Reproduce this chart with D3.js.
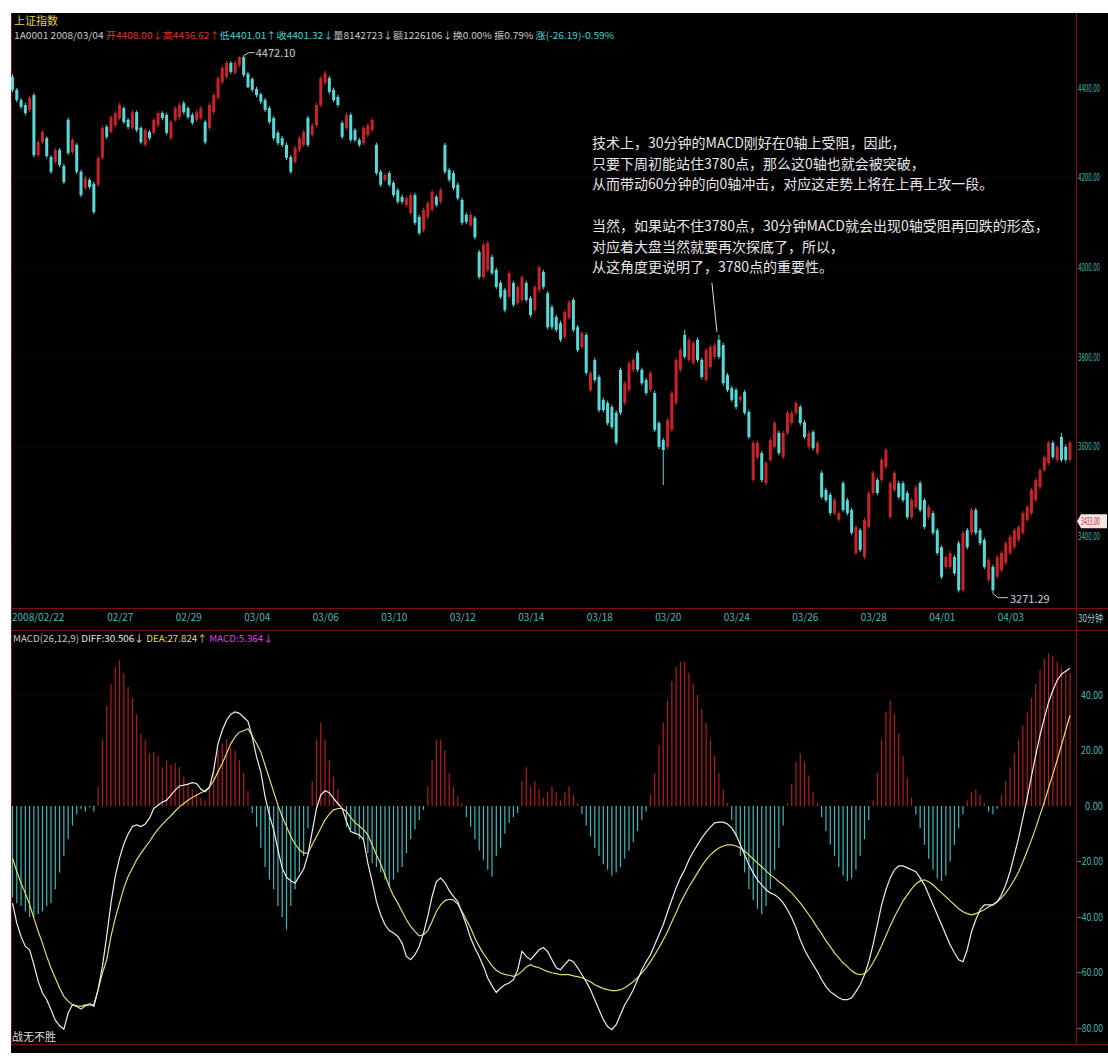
<!DOCTYPE html>
<html>
<head>
<meta charset="utf-8">
<script src="https://cdn.jsdelivr.net/npm/d3@7/dist/d3.min.js"></script>
<style>
html, body { margin: 0; padding: 0; background: #fff; }
svg { display: block; }
text { font-family: "Noto Sans CJK SC", "DejaVu Sans", sans-serif; }
</style>
</head>
<body>
<div id="chart"></div>
<script>
// 30-minute bars, 2008/02/22 .. 2008/04/08
var opens = [
4425,4396,4373,4362,4351,4384,4250,4279,4288,4246,
4235,4262,4226,4329,4257,4273,4213,4177,4195,4186,
4184,4244,4313,4302,4317,4333,4355,4329,4311,4346,
4311,4273,4302,4300,4317,4344,4340,4288,4329,4335,
4366,4355,4340,4329,4333,4324,4311,4346,4378,4413,
4425,4456,4434,4451,4469,4432,4420,4398,4386,4373,
4355,4333,4300,4288,4273,4246,4235,4262,4273,4333,
4295,4317,4362,4411,4422,4396,4380,4322,4311,4340,
4306,4284,4277,4295,4306,4273,4213,4195,4210,4188,
4172,4157,4139,4121,4161,4112,4083,4112,4128,4157,
4146,4273,4217,4210,4184,4150,4117,4094,4110,4034,
3978,3994,4023,3994,3965,3949,3934,3965,3920,3927,
3965,3931,3904,3949,3989,3942,3911,3889,3875,3844,
3887,3927,3866,3822,3849,3726,3793,3755,3704,3697,
3688,3675,3771,3697,3726,3771,3809,3771,3748,3726,
3719,3652,3614,3599,3637,3697,3771,3849,3793,3786,
3838,3793,3748,3777,3800,3838,3826,3759,3730,3726,
3704,3721,3677,3525,3576,3585,3518,3570,3599,3630,
3576,3630,3652,3675,3688,3654,3599,3632,3585,3541,
3503,3492,3451,3436,3518,3480,3458,3362,3413,3353,
3420,3496,3525,3525,3554,3442,3503,3518,3518,3496,
3442,3465,3518,3480,3442,3451,3413,3375,3331,3331,
3353,3384,3279,3413,3407,3458,3413,3391,3302,3331,
3309,3324,3340,3362,3375,3391,3407,3436,3451,3480,
3509,3547,3563,3608,3570,3621,3599,3570];

var closes = [
4396,4373,4358,4344,4378,4250,4279,4302,4248,4213,
4262,4228,4190,4255,4284,4213,4161,4199,4179,4123,
4244,4311,4291,4335,4344,4362,4324,4313,4346,4306,
4279,4306,4288,4329,4344,4333,4300,4324,4355,4362,
4346,4335,4322,4346,4355,4279,4362,4384,4422,4445,
4456,4436,4456,4469,4429,4401.32,4396,4384,4369,4351,
4324,4288,4277,4273,4244,4213,4266,4288,4302,4273,
4317,4362,4422,4434,4391,4373,4362,4291,4340,4284,
4284,4273,4311,4317,4329,4210,4184,4206,4184,4161,
4146,4146,4154,4161,4099,4076,4128,4143,4168,4139,
4172,4213,4195,4177,4154,4099,4101,4117,4067,3978,
4050,4054,3987,3956,3934,3904,3987,3916,3956,3978,
3927,3893,3956,4000,3956,3866,3866,3860,3838,3900,
3922,3860,3815,3853,3764,3764,3748,3681,3681,3652,
3643,3608,3675,3741,3786,3793,3771,3741,3719,3764,
3637,3599,3592,3659,3719,3793,3815,3800,3838,3831,
3793,3755,3815,3822,3826,3800,3741,3726,3704,3688,
3710,3675,3621,3608,3608,3525,3563,3614,3652,3585,
3630,3675,3675,3697,3652,3621,3630,3596,3608,3487,
3480,3451,3480,3451,3458,3451,3407,3420,3369,3436,
3496,3541,3496,3570,3592,3518,3541,3487,3480,3442,
3480,3509,3458,3420,3465,3407,3362,3309,3353,3362,
3317,3279,3407,3375,3458,3407,3384,3331,3346,3279,
3353,3362,3384,3398,3413,3420,3451,3465,3503,3525,
3547,3576,3608,3576,3599,3570,3570,3608];

var highs = [
4431,4400,4377,4367,4383,4389,4284,4307,4292,4250,
4267,4266,4231,4334,4289,4277,4218,4204,4199,4191,
4249,4316,4318,4339,4349,4367,4359,4333,4351,4350,
4315,4311,4306,4334,4349,4348,4345,4329,4360,4367,
4371,4359,4345,4351,4360,4329,4367,4389,4427,4450,
4461,4460,4461,4471,4472.10,4436.62,4424,4403,4390,4378,
4360,4338,4305,4293,4278,4251,4271,4293,4307,4338,
4322,4367,4427,4439,4427,4401,4385,4327,4345,4345,
4311,4289,4316,4322,4334,4278,4218,4211,4215,4193,
4177,4162,4159,4166,4166,4117,4133,4148,4173,4162,
4177,4278,4222,4215,4189,4155,4122,4122,4115,4039,
4055,4059,4028,3999,3970,3954,3992,3970,3961,3983,
3970,3936,3961,4005,3994,3947,3916,3894,3880,3905,
3927,3932,3871,3858,3854,3769,3798,3760,3709,3702,
3693,3680,3776,3746,3791,3798,3814,3776,3753,3769,
3724,3657,3619,3664,3724,3798,3820,3860,3843,3836,
3843,3798,3820,3827,3831,3849,3831,3764,3735,3731,
3715,3726,3682,3613,3613,3590,3568,3619,3657,3635,
3635,3680,3680,3702,3693,3659,3635,3637,3613,3546,
3508,3497,3485,3456,3523,3485,3463,3425,3418,3441,
3501,3546,3530,3575,3597,3523,3546,3523,3523,3501,
3485,3514,3523,3485,3470,3456,3418,3380,3358,3367,
3358,3389,3412,3418,3463,3463,3418,3396,3351,3336,
3358,3367,3389,3403,3418,3425,3456,3470,3508,3530,
3552,3581,3613,3613,3604,3630,3604,3613];

var lows = [
4391,4368,4353,4339,4346,4245,4245,4274,4243,4208,
4230,4223,4185,4250,4252,4208,4156,4172,4174,4118,
4179,4239,4286,4297,4312,4328,4319,4308,4306,4301,
4274,4268,4283,4295,4312,4328,4295,4283,4324,4330,
4341,4330,4317,4324,4328,4274,4306,4341,4373,4408,
4420,4431,4429,4446,4424,4401.01,4391,4379,4364,4346,
4319,4283,4272,4268,4239,4208,4230,4257,4268,4268,
4290,4312,4357,4406,4386,4368,4357,4286,4306,4279,
4279,4268,4272,4290,4301,4205,4179,4190,4179,4156,
4141,4141,4134,4116,4094,4071,4078,4107,4123,4134,
4141,4208,4190,4172,4149,4094,4096,4089,4062,3973,
3973,3989,3982,3951,3929,3899,3929,3911,3915,3922,
3922,3888,3899,3944,3951,3861,3861,3855,3833,3839,
3882,3855,3810,3817,3759,3721,3743,3676,3676,3647,
3638,3603,3670,3692,3721,3766,3766,3736,3714,3721,
3632,3594,3514,3594,3632,3692,3766,3795,3788,3781,
3788,3750,3743,3772,3795,3795,3736,3721,3699,3683,
3699,3670,3616,3520,3571,3520,3513,3565,3594,3580,
3571,3625,3647,3670,3647,3616,3594,3591,3580,3482,
3475,3446,3446,3431,3453,3446,3402,3357,3364,3348,
3415,3491,3491,3520,3549,3437,3498,3482,3475,3437,
3437,3460,3453,3415,3437,3402,3357,3304,3326,3326,
3312,3274,3274,3370,3402,3402,3379,3326,3297,3271.29,
3304,3319,3335,3357,3370,3386,3402,3431,3446,3475,
3504,3542,3558,3571,3565,3565,3565,3565];

// MACD(26,12,9)
var diffs = [
-35,-42.2,-47,-50.6,-51.8,-57.2,-63.2,-67.4,-69.8,-73.4,
-77.2,-79.2,-80.4,-74.6,-71.6,-72.2,-73.2,-72,-71.2,-72.2,
-66.2,-57.8,-47,-35,-25.4,-18.8,-13.7,-10.1,-7.4,-6.8,
-7.4,-6.5,-4.4,-0.9,0.3,1.4,2.1,3.9,5.7,7.2,
7.5,7.9,8.4,8.1,6.1,5.1,6.7,12.9,22.5,27.3,
30.9,33.1,33.9,33.4,32,30.506,24.9,17.7,12.3,3.3,
-3.2,-8.6,-15.8,-22.4,-25.7,-26.9,-27.8,-25.2,-22.8,-17.6,
-9.2,-0.9,3.9,5.5,4.8,2.7,0.9,-0.9,-5.6,-9.2,
-9.8,-10.4,-12.2,-20.6,-27.2,-34.4,-39.2,-42.8,-44.9,-45.8,
-47,-49.4,-54.2,-55.4,-53.6,-50.6,-45.8,-39.8,-32.6,-27.2,
-26,-27.6,-30.5,-32.6,-34.4,-38.6,-42.8,-47.6,-51.2,-54.2,
-57.8,-62,-64.8,-67.2,-65.6,-64.4,-63.8,-62.6,-59,-52.4,
-54.2,-55.4,-53.6,-51.8,-51,-52.5,-55.4,-58.3,-59,-57.2,
-55.4,-56.1,-58.3,-60.8,-63.3,-66.2,-69.8,-73.4,-77,-79.5,
-80.6,-78.8,-75.2,-71.6,-69.1,-66.2,-62.6,-59,-56.1,-53.6,
-50,-46.4,-42.8,-38.1,-33.8,-29.5,-25.9,-23,-19.4,-16.5,
-14,-11.5,-9.4,-7.6,-6.1,-5.8,-5.8,-6.5,-7.9,-10.4,
-14,-17.6,-21.2,-24.1,-26.6,-28.4,-30.2,-31.3,-32,-33.1,
-34.9,-37.4,-40.3,-43.9,-48.2,-51.8,-54.7,-57.2,-59.7,-62.6,
-65.1,-66.9,-68,-69.1,-69.8,-69.8,-69.1,-66.9,-64.4,-60.8,
-56.1,-50,-42.8,-35.6,-30.2,-25.9,-23,-21.6,-21.6,-22.3,
-23,-23.7,-25.9,-28.4,-32,-35.6,-39.2,-42.8,-46.4,-50,
-52.9,-55.4,-56.1,-51.8,-45.3,-41,-37.4,-35.6,-35.6,-35.6,
-34.5,-32,-28.4,-23.7,-17.6,-11.5,-4.3,2.9,10.8,18.3,
25.5,31.7,37.4,41.7,45.3,47.5,48.6,49.6];

var deas = [
-18.8,-23.6,-27.8,-31.4,-35.6,-40.4,-45.2,-49.4,-54.2,-58.4,
-62,-65.6,-68.6,-70.4,-71.6,-72,-72.2,-71.7,-71.8,-71.6,
-66.2,-60.2,-55.4,-47,-40.4,-35,-29.6,-25.4,-22.4,-19.4,
-17,-14.9,-12.8,-10.4,-8.3,-6.6,-5,-3.5,-1.8,-0.3,
0.9,2.1,3.1,3.9,4.8,5.5,6.9,9.1,12.3,15.3,
18.9,22.5,24.9,26.6,27.1,27.824,25.2,22.5,19.5,14.7,
9.9,5.1,0.3,-3.9,-7.4,-11,-13.7,-15.8,-17,-17,
-14,-11,-8,-5,-2.9,-1.4,-0.9,-0.9,-2,-4.1,
-6,-7.2,-8.6,-10.4,-14,-17.6,-20.9,-24.8,-29,-32.4,
-35,-38,-41,-43.4,-45.2,-46.8,-46.4,-44.9,-41.6,-38,
-35.6,-34.1,-33.6,-33.8,-35.3,-38,-41,-44,-47.6,-50.6,
-53.2,-55.4,-57.6,-59.2,-60.2,-60.7,-61,-61.4,-60.8,-59.6,
-58,-57.2,-57.9,-58.3,-59,-59.7,-60.1,-60.4,-60.8,-60.8,
-60.8,-61.2,-61.5,-61.9,-62.6,-63.3,-64.4,-65.1,-65.8,-66.2,
-66.5,-66.5,-66.2,-65.5,-64.4,-63.3,-61.9,-60.1,-58.3,-56.1,
-53.6,-51.1,-48.2,-45.3,-41.7,-38.5,-34.9,-32,-29.1,-26.6,
-24.1,-21.6,-19.4,-17.6,-16.2,-15.1,-14.4,-14,-14,-14.4,
-15.1,-16.2,-17.6,-19.1,-20.5,-21.9,-23.4,-24.8,-25.9,-27.3,
-28.4,-29.9,-31.3,-33.1,-34.9,-37,-39.2,-41.4,-43.9,-46,
-48.6,-50.7,-52.9,-54.7,-56.5,-57.9,-59.4,-60.4,-60.8,-60.4,
-59,-56.5,-53.6,-50.4,-46.8,-43.2,-39.9,-37,-34.2,-32,
-29.9,-28.1,-27,-26.6,-27.3,-28.4,-29.9,-31.3,-32.7,-34.2,
-35.6,-37,-38.1,-38.8,-39.2,-38.8,-38.1,-37.4,-36.3,-35.6,
-34.5,-33.1,-31.3,-29.1,-26.6,-23.7,-20.1,-16.2,-12.2,-7.9,
-3.2,1.4,6.5,11.5,16.5,21.9,27.3,32.7];

var macdBars = [
-33,-35,-36,-38,-40,-40,-39,-38,-36,-35,
-30,-24,-18,-12,-7,-3,-1,-2,-0.5,-2,
7,24,36,44,50,52.5,48,43,39,33,
26,24,19,19.5,18,14,16.5,15,15.5,14,
10.5,8,6,4.5,3,2,7,14,20,22.5,
24,21,20,16.5,12,5.364,-2.5,-7.5,-15,-22,
-26.5,-30,-36,-40,-44.5,-36,-30,-24,-18,-8,
9,24,30,24,16.5,10.5,6,1,-7.5,-8.5,
-10,-12,-12,-17,-20.5,-22,-24,-26.5,-29,-26.5,
-24,-22,-17,-12,-8.5,-5,-1.5,7,16.5,24,
24,20,12,7,3.5,1,-4,-7.5,-12,-16,
-19.5,-23,-25.5,-18,-15,-10,-6,-4,-2.5,9,
14,7,9,6,3,5,7,5,2,5,
7,4,1,-3,-7,-11,-15,-18,-21,-23,
-25,-24,-22,-19,-16,-13,-9,-5,-2,4,
12,22,30,38,45,50,52,52,48,44,
40,35,30,24,18,12,6,1,-5,-11,
-18,-24,-30,-34,-37,-39,-36,-30,-23,-15,
-7,1,8,16,19,16,11,5,1,-4,
-9,-14,-18,-22,-25,-27,-26,-23,-18,-12,
-5,2,12,24,34,38,33,26,18,10,
3,-3,-8,-14,-19,-23,-26,-27,-25,-20,
-14,-8,-3,2,5,6,4,1,-2,-3,
-1,4,9,14,19,24,29,34,39,44,
49,53,55,54,52,50,49,48];

var dateIdx = [0, 22, 38, 54, 70, 86, 102, 118, 134, 150, 166, 182, 198, 214, 230];
var dateLabels = ["2008/02/22","02/27","02/29","03/04","03/06","03/10","03/12","03/14",
                  "03/18","03/20","03/24","03/26","03/28","04/01","04/03"];
var priceTicks = [3400, 3600, 3800, 4000, 4200, 4400];
var macdTicks = [40, 20, 0, -20, -40, -60, -80];
var lastMark = 3433;

var noteLines = [
  "技术上，30分钟的MACD刚好在0轴上受阻，因此，",
  "只要下周初能站住3780点，那么这0轴也就会被突破，",
  "从而带动60分钟的向0轴冲击，对应这走势上将在上再上攻一段。",
  "",
  "当然，如果站不住3780点，30分钟MACD就会出现0轴受阻再回跌的形态，",
  "对应着大盘当然就要再次探底了，所以，",
  "从这角度更说明了，3780点的重要性。"
];
var noteBar = 165;

var W = 1108, H = 1061;
var UP = "#c8222a", DOWN = "#58d8d8", AXIS = "#48b8b0", FRAME = "#7a1010";
var RIGHT = 1103;   // right end of the MACD labels
var PRIGHT = 1100;  // right end of the price labels

var svg = d3.select("#chart").append("svg")
    .attr("width", W)
    .attr("height", H);

svg.append("rect")
    .attr("x", 11).attr("y", 13)
    .attr("width", W - 11).attr("height", 1040)
    .attr("fill", "#000");

var N = closes.length;
var x = d3.scaleLinear().domain([0, N - 1]).range([12.5, 1070]);
var yP = d3.scaleLinear().domain([3400, 4400]).range([536, 88]);
var yM = d3.scaleLinear().domain([-80, 40]).range([1028, 695]);

// grid lines
svg.append("g").selectAll("line")
    .data(priceTicks)
    .enter().append("line")
    .attr("x1", 12).attr("x2", 1076)
    .attr("y1", function(d) { return yP(d); })
    .attr("y2", function(d) { return yP(d); })
    .attr("stroke", "#3a0c0c")
    .attr("stroke-dasharray", "1,3");

svg.append("g").selectAll("line")
    .data([40, -40])
    .enter().append("line")
    .attr("x1", 12).attr("x2", 1076)
    .attr("y1", function(d) { return yM(d); })
    .attr("y2", function(d) { return yM(d); })
    .attr("stroke", "#3a0c0c")
    .attr("stroke-dasharray", "1,3");

// frame lines
var frame = svg.append("g").attr("stroke", FRAME).attr("stroke-width", 1);
frame.append("line").attr("x1", 11.5).attr("x2", 11.5).attr("y1", 13).attr("y2", 1044);
frame.append("line").attr("x1", 1076.5).attr("x2", 1076.5).attr("y1", 13).attr("y2", 1044);
frame.append("line").attr("x1", 11).attr("x2", W).attr("y1", 608.5).attr("y2", 608.5);
frame.append("line").attr("x1", 11).attr("x2", W).attr("y1", 630.5).attr("y2", 630.5);
frame.append("line").attr("x1", 11).attr("x2", W).attr("y1", 1044.5).attr("y2", 1044.5);

// candles
var bars = d3.range(N);
var candle = svg.append("g").selectAll("g")
    .data(bars)
    .enter().append("g");

candle.append("line")
    .attr("x1", function(i) { return x(i); })
    .attr("x2", function(i) { return x(i); })
    .attr("y1", function(i) { return yP(highs[i]); })
    .attr("y2", function(i) { return yP(lows[i]); })
    .attr("stroke", function(i) { return closes[i] >= opens[i] ? UP : DOWN; })
    .attr("stroke-width", 1);

candle.append("rect")
    .attr("x", function(i) { return x(i) - 1.5; })
    .attr("width", 3)
    .attr("y", function(i) { return yP(Math.max(opens[i], closes[i])); })
    .attr("height", function(i) {
        return Math.max(1, Math.abs(yP(opens[i]) - yP(closes[i])));
    })
    .attr("fill", function(i) { return closes[i] >= opens[i] ? UP : DOWN; });

// high / low labels
var hi = d3.maxIndex(highs), lo = d3.minIndex(lows);
svg.append("path")
    .attr("d", "M" + x(hi) + "," + yP(highs[hi]) + "l5,-3h6")
    .attr("stroke", "#ccc").attr("fill", "none");
svg.append("text")
    .attr("x", x(hi) + 12).attr("y", yP(highs[hi]) - 3)
    .attr("dy", "0.35em")
    .attr("font-size", 11).attr("fill", "#ccc")
    .text(d3.format(".2f")(highs[hi]));

svg.append("path")
    .attr("d", "M" + x(lo) + "," + yP(lows[lo]) + "l5,4h10")
    .attr("stroke", "#ccc").attr("fill", "none");
svg.append("text")
    .attr("x", x(lo) + 17).attr("y", yP(lows[lo]) + 5)
    .attr("dy", "0.35em")
    .attr("font-size", 11).attr("fill", "#ccc")
    .text(d3.format(".2f")(lows[lo]));

// annotation text
var note = svg.append("text")
    .attr("x", 592).attr("y", 148)
    .attr("font-size", 14).attr("fill", "#e6e6e6");
note.selectAll("tspan")
    .data(noteLines)
    .enter().append("tspan")
    .attr("x", 592)
    .attr("dy", function(d, i) { return i === 0 ? 0 : 20.7; })
    .text(function(d) { return d === "" ? " " : d; });

svg.append("line")
    .attr("x1", x(noteBar) - 7).attr("y1", 283)
    .attr("x2", x(noteBar) - 2).attr("y2", yP(highs[noteBar]) - 3)
    .attr("stroke", "#ddd");

// price axis (labels squeezed into the narrow right margin)
var pAxis = svg.append("g")
    .attr("transform", "translate(" + PRIGHT + ",0)")
    .call(d3.axisLeft(yP).tickValues(priceTicks).tickSize(0).tickPadding(0)
        .tickFormat(d3.format(".2f")));
pAxis.select(".domain").remove();
pAxis.selectAll("text").attr("fill", AXIS).attr("font-size", 10)
    .attr("font-family", "DejaVu Sans Condensed")
    .attr("textLength", 22).attr("lengthAdjust", "spacingAndGlyphs");

// last price marker
var mark = svg.append("g").attr("transform", "translate(0," + yP(lastMark) + ")");
mark.append("path")
    .attr("d", "M1077,0l4,-7h26v14h-26z")
    .attr("fill", "#f3e6e6");
mark.append("text")
    .attr("x", PRIGHT).attr("dy", "0.35em")
    .attr("text-anchor", "end")
    .attr("font-size", 10).attr("fill", "#d02020")
    .attr("font-family", "DejaVu Sans Condensed")
    .attr("textLength", 19).attr("lengthAdjust", "spacingAndGlyphs")
    .text(d3.format(".2f")(lastMark));

// date axis
var xAxis = svg.append("g")
    .attr("transform", "translate(0,611)")
    .call(d3.axisBottom(x).tickValues(dateIdx).tickSize(0).tickPadding(3)
        .tickFormat(function(d, i) { return dateLabels[i]; }));
xAxis.select(".domain").remove();
xAxis.selectAll("text")
    .attr("text-anchor", "start")
    .attr("fill", AXIS).attr("font-size", 10)
    .attr("font-family", "DejaVu Sans Condensed");
xAxis.select(".tick text").attr("dx", -1);

svg.append("text")
    .attr("x", RIGHT).attr("y", 622)
    .attr("text-anchor", "end")
    .attr("font-size", 10).attr("fill", "#9ad0d0")
    .attr("textLength", 25).attr("lengthAdjust", "spacingAndGlyphs")
    .text("30分钟");

// MACD histogram
svg.append("g").selectAll("line")
    .data(bars)
    .enter().append("line")
    .attr("x1", function(i) { return x(i); })
    .attr("x2", function(i) { return x(i); })
    .attr("y1", yM(0))
    .attr("y2", function(i) { return yM(macdBars[i]); })
    .attr("stroke", function(i) { return macdBars[i] >= 0 ? "#b01e1e" : "#3fb8b8"; })
    .attr("stroke-width", 1.2);

var line = function(arr) {
    return d3.line()
        .x(function(i) { return x(i); })
        .y(function(i) { return yM(arr[i]); })(bars);
};
svg.append("path")
    .attr("d", line(deas))
    .attr("fill", "none").attr("stroke", "#e2da72").attr("stroke-width", 1.2);
svg.append("path")
    .attr("d", line(diffs))
    .attr("fill", "none").attr("stroke", "#ececec").attr("stroke-width", 1.2);

// MACD axis
var mAxis = svg.append("g")
    .attr("transform", "translate(" + RIGHT + ",0)")
    .call(d3.axisLeft(yM).tickValues(macdTicks).tickSize(0).tickPadding(0)
        .tickFormat(d3.format(".2f")));
mAxis.select(".domain").remove();
mAxis.selectAll("text").attr("fill", AXIS).attr("font-size", 10)
    .attr("font-family", "DejaVu Sans Condensed")
    .attr("textLength", function(d) { return d < 0 ? 26 : d === 0 ? 18 : 22; })
    .attr("lengthAdjust", "spacingAndGlyphs");

// header texts
svg.append("text")
    .attr("x", 14).attr("y", 25)
    .attr("font-size", 11).attr("fill", "#e0d040")
    .text("上证指数");

var info = [
    ["1A0001 2008/03/04 ", "#c8c8c8"],
    ["开4408.00↓", "#e03030"],
    ["高4436.62↑", "#e03030"],
    ["低4401.01↑", "#40d0d0"],
    ["收4401.32↓", "#40d0d0"],
    ["量8142723↓", "#c8c8c8"],
    ["额1226106↓", "#c8c8c8"],
    ["换0.00% ", "#c8c8c8"],
    ["振0.79% ", "#c8c8c8"],
    ["涨(-26.19)-0.59%", "#40d0d0"]
];
var infoText = svg.append("text")
    .attr("x", 14).attr("y", 39)
    .attr("font-size", 9.5)
    .attr("textLength", 600).attr("lengthAdjust", "spacingAndGlyphs");
infoText.selectAll("tspan").data(info).enter().append("tspan")
    .attr("fill", function(d) { return d[1]; })
    .text(function(d) { return d[0]; });

var macdInfo = [
    ["MACD(26,12,9) ", "#c8c8c8"],
    ["DIFF:" + d3.format(".3f")(diffs[55]) + "↓ ", "#e8e8e8"],
    ["DEA:" + d3.format(".3f")(deas[55]) + "↑ ", "#e0d860"],
    ["MACD:" + d3.format(".3f")(macdBars[55]) + "↓", "#e040e0"]
];
var macdText = svg.append("text")
    .attr("x", 13).attr("y", 642)
    .attr("font-size", 9.5)
    .attr("textLength", 260).attr("lengthAdjust", "spacingAndGlyphs");
macdText.selectAll("tspan").data(macdInfo).enter().append("tspan")
    .attr("fill", function(d) { return d[1]; })
    .text(function(d) { return d[0]; });

svg.append("text")
    .attr("x", 12).attr("y", 1041)
    .attr("font-size", 11).attr("fill", "#ddd")
    .text("战无不胜");
</script>
</body>
</html>
